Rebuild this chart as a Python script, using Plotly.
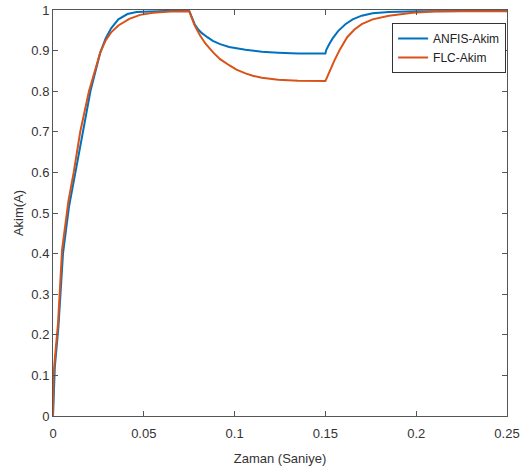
import plotly.graph_objects as go

# ANFIS current response
anfis_t = [0, 0.0005, 0.001, 0.003, 0.0055, 0.0088, 0.0125, 0.0165, 0.0206, 0.026,
           0.029, 0.032, 0.036, 0.041, 0.046, 0.055, 0.065, 0.075, 0.0765, 0.078,
           0.080, 0.082, 0.085, 0.088, 0.092, 0.097, 0.106, 0.115, 0.124, 0.135,
           0.15, 0.1505, 0.152, 0.154, 0.157, 0.161, 0.165, 0.17, 0.176, 0.185,
           0.2, 0.225, 0.25]
anfis_i = [0, 0.08, 0.12, 0.22, 0.40, 0.515, 0.60, 0.70, 0.80, 0.895,
           0.93, 0.955, 0.977, 0.99, 0.995, 0.997, 0.998, 0.998, 0.98, 0.965,
           0.952, 0.943, 0.933, 0.924, 0.916, 0.909, 0.902, 0.897, 0.895, 0.893,
           0.893, 0.902, 0.915, 0.93, 0.948, 0.965, 0.977, 0.986, 0.992, 0.995,
           0.997, 0.998, 0.998]

# FLC current response
flc_t = [0, 0.0003, 0.001, 0.0028, 0.005, 0.0085, 0.0114, 0.015, 0.0198, 0.026,
         0.029, 0.032, 0.036, 0.042, 0.048, 0.055, 0.065, 0.075, 0.0765, 0.078,
         0.081, 0.084, 0.0883, 0.092, 0.097, 0.101, 0.106, 0.110, 0.115, 0.124,
         0.135, 0.15, 0.1515, 0.153, 0.155, 0.158, 0.162, 0.166, 0.17, 0.176,
         0.185, 0.198, 0.21, 0.225, 0.25]
flc_i = [0, 0.1, 0.14, 0.23, 0.41, 0.53, 0.60, 0.70, 0.80, 0.895,
         0.925, 0.945, 0.962, 0.978, 0.988, 0.993, 0.996, 0.997, 0.98, 0.962,
         0.937, 0.917, 0.895, 0.879, 0.864, 0.853, 0.844, 0.838, 0.833, 0.828,
         0.826, 0.825, 0.84, 0.856, 0.876, 0.903, 0.933, 0.952, 0.965, 0.977,
         0.986, 0.993, 0.996, 0.997, 0.997]

FONT = "Arial, Liberation Sans, sans-serif"
AXIS = "#555555"
TEXT = "#333333"

fig = go.Figure()
fig.add_trace(go.Scatter(x=anfis_t, y=anfis_i, name="ANFIS-Akim", mode="lines",
                         line=dict(color="#0072BD", width=2)))
fig.add_trace(go.Scatter(x=flc_t, y=flc_i, name="FLC-Akim", mode="lines",
                         line=dict(color="#D95319", width=2)))

axis_common = dict(
    showgrid=False, zeroline=False, automargin=False,
    showline=True, linecolor=AXIS, linewidth=1, mirror="ticks",
    ticks="inside", ticklen=5, tickcolor=AXIS,
    tickfont=dict(family=FONT, size=13, color=TEXT),
)
fig.update_xaxes(range=[0, 0.25], dtick=0.05, ticklabelstandoff=5,
                 title=dict(text="Zaman (Saniye)", font=dict(family=FONT, size=13, color=TEXT),
                            standoff=14),
                 **axis_common)
fig.update_yaxes(range=[0, 1], dtick=0.1,
                 title=dict(text="Akim(A)", font=dict(family=FONT, size=13, color=TEXT),
                            standoff=4),
                 **axis_common)

fig.update_layout(
    width=531, height=472,
    margin=dict(l=53, r=24, t=10, b=56),
    plot_bgcolor="white", paper_bgcolor="white",
    font=dict(family=FONT, color=TEXT),
    legend=dict(x=0.998, y=0.968, xanchor="right", yanchor="top",
                bgcolor="white", bordercolor="#333333", borderwidth=1,
                font=dict(family=FONT, size=12, color="#222222")),
)

# page has a default 8px body margin; drop it so the figure sits at the corner
fig.write_html("out.html", config={"displayModeBar": False},
               post_script="document.body.style.margin='0';")
